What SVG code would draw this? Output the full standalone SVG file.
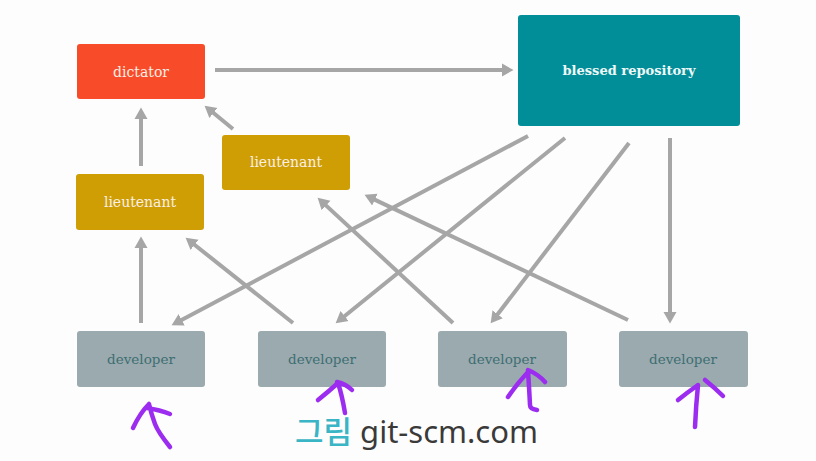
<svg xmlns="http://www.w3.org/2000/svg" width="816" height="461" viewBox="0 0 816 461">
<defs>
<style>
.node rect{rx:3px;ry:3px}
.lbl{font-family:"DejaVu Serif","Liberation Serif",serif;font-size:14px;text-anchor:middle;fill:#fbefe6}
.dev rect{fill:#9aaaae}
.dev text{font-family:"DejaVu Serif","Liberation Serif",serif;font-size:13.5px;text-anchor:middle;fill:#3e6e72}
.conn line{stroke:#a6a6a6;stroke-width:4;marker-end:url(#ah)}
.pen path{fill:none;stroke:#9b2cf0;stroke-width:4.5;stroke-linecap:round;stroke-linejoin:round}
</style>
<marker id="ah" markerUnits="userSpaceOnUse" markerWidth="12" markerHeight="14" viewBox="0 0 12 14" refX="5" refY="7" orient="auto">
<path d="M0,0.5 L11.5,7 L0,13.5 z" fill="#a6a6a6"/>
</marker>
</defs>
<rect width="816" height="461" fill="#fdfdfd"/>

<g id="connectors" class="conn">
<line x1="215" y1="70" x2="507" y2="70"/>
<line x1="141" y1="166" x2="141" y2="114"/>
<line x1="233" y1="129" x2="209.6" y2="109.8"/>
<line x1="141" y1="323" x2="141" y2="243"/>
<line x1="293" y1="323" x2="190.7" y2="241.7"/>
<line x1="453" y1="323" x2="322.4" y2="202.1"/>
<line x1="628" y1="320" x2="370.4" y2="197.6"/>
<line x1="528" y1="136" x2="177.3" y2="322.2"/>
<line x1="565" y1="138" x2="340.7" y2="319.2"/>
<line x1="629" y1="143" x2="494.6" y2="318.2"/>
<line x1="670" y1="138" x2="670" y2="317"/>
</g>

<g id="dictator" class="node">
<rect x="77" y="44" width="128" height="55" fill="#f84b29"/>
<text class="lbl" x="141" y="77">dictator</text>
</g>
<g id="blessed" class="node">
<rect x="518" y="15" width="222" height="111" fill="#028e98"/>
<text class="lbl" x="629" y="75" style="font-weight:bold;font-size:13px;fill:#eef8f8">blessed repository</text>
</g>
<g id="lieutenant1" class="node">
<rect x="76" y="174" width="128" height="56" fill="#ce9e04"/>
<text class="lbl" x="140" y="207">lieutenant</text>
</g>
<g id="lieutenant2" class="node">
<rect x="222" y="135" width="128" height="55" fill="#ce9e04"/>
<text class="lbl" x="286" y="167">lieutenant</text>
</g>
<g id="developer1" class="node dev">
<rect x="77" y="331" width="128" height="56"/>
<text x="141" y="364">developer</text>
</g>
<g id="developer2" class="node dev">
<rect x="258" y="331" width="128" height="56"/>
<text x="322" y="364">developer</text>
</g>
<g id="developer3" class="node dev">
<rect x="438" y="331" width="129" height="56"/>
<text x="502" y="364">developer</text>
</g>
<g id="developer4" class="node dev">
<rect x="619" y="331" width="129" height="56"/>
<text x="683" y="364">developer</text>
</g>

<g id="annotations" class="pen">
<path d="M170,447 Q158,432 155,424 Q151,413 149,404 M149,404 Q140,413 133,428 M147,408 Q160,410 170,414"/>
<path d="M345,413 Q342,395 338,383 M338,383 Q328,392 318,400 M337,382 Q346,384 352,390"/>
<path d="M537,410 Q530,409 530,405 Q529,385 528,371 M528,372 Q516,385 508,397 M528,370 Q538,374 545,382"/>
<path d="M695,427 Q696,405 698,385 M698,385 Q688,392 678,400 M705,380 Q715,388 723,396"/>
</g>

<text x="295" y="443" style="font-family:'Noto Sans','Noto Sans CJK KR',sans-serif;font-size:31px;fill:#3a3a3a"><tspan fill="#3ab5c5" style="font-family:'Noto Sans CJK KR',sans-serif;font-weight:500">그림</tspan> git-scm.com</text>
</svg>
